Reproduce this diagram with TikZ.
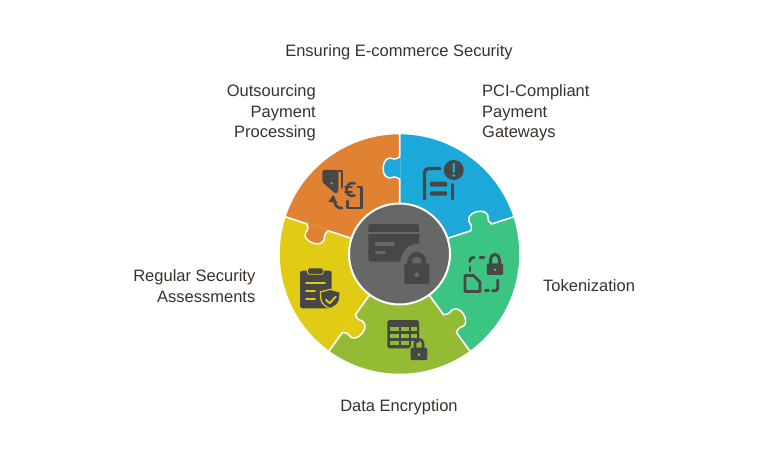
\documentclass[tikz,border=0pt]{standalone}
\usepackage{fontspec}
\setmainfont{Liberation Sans}
\definecolor{cOrange}{HTML}{E08232}
\definecolor{cBlue}{HTML}{1CA9DA}
\definecolor{cGreen}{HTML}{3CC483}
\definecolor{cLime}{HTML}{93BB33}
\definecolor{cYellow}{HTML}{E1CB15}
\definecolor{cCentre}{HTML}{676767}
\definecolor{cIcon}{HTML}{474747}
\definecolor{cText}{HTML}{3A322B}
\tikzset{
  lbl/.style={inner sep=0pt,text=cText,font=\fontsize{16.5}{20.5}\selectfont},
  petal/.style={draw=white,line width=1.5pt,line join=round},
  ico/.style={draw=cIcon,line width=3pt,line cap=round,line join=round},
}
% lock: centre x, body top, half width, body height, shackle radius, hole colour, shackle rise
\newcommand{\lockicon}[7]{%
  \draw[draw=cIcon,line width=#5*0.68pt] (#1-#5,#2+1) -- (#1-#5,#2-#7) arc[start angle=180,end angle=360,radius=#5] -- (#1+#5,#2+1);
  \fill[cIcon,rounded corners=2pt] (#1-#3,#2) rectangle (#1+#3,#2+#4);
  \fill[#6] (#1,#2+#4*0.55) circle[radius=#4*0.12];
}
\newcommand{\sector}[3]{%
  \draw[petal,fill=#1] (#2:50) -- (#2:120.5) arc[start angle=#2,end angle=#3,radius=120.5] -- (#3:50) arc[start angle=#3,end angle=#2,radius=50] -- cycle;
}
\newcommand{\knob}[2]{%
  \begin{scope}[rotate=#2]
    \fill[#1] (97,-1) -- (97,0) .. controls (95.8,2.5) and (94.6,3.5) .. (95,5.5)
      .. controls (96.4,8) and (96.4,11) .. (94,13.5)
      .. controls (91,17) and (81,17.6) .. (78,14)
      .. controls (75.6,11) and (75.6,8) .. (77,5.5)
      .. controls (77.4,3.5) and (76.2,2.5) .. (75,0) -- (75,-1) -- cycle;
    \draw[white,line width=1.5pt,line cap=round] (97,0) .. controls (95.8,2.5) and (94.6,3.5) .. (95,5.5)
      .. controls (96.4,8) and (96.4,11) .. (94,13.5)
      .. controls (91,17) and (81,17.6) .. (78,14)
      .. controls (75.6,11) and (75.6,8) .. (77,5.5)
      .. controls (77.4,3.5) and (76.2,2.5) .. (75,0);
  \end{scope}
}
\begin{document}
\begin{tikzpicture}[x=1pt,y=-1pt]
\useasboundingbox (0,0) rectangle (768,454);
\fill[white] (0,0) rectangle (768,454);

% wheel
\begin{scope}[shift={(399.5,254)},y=1pt]
  \sector{cBlue}{18}{90}
  \sector{cOrange}{90}{162}
  \sector{cYellow}{162}{234}
  \sector{cLime}{234}{306}
  \sector{cGreen}{306}{378}
  \knob{cBlue}{90}
  \knob{cGreen}{18}
  \knob{cOrange}{162}
  \knob{cYellow}{234}
  \knob{cLime}{306}
  \draw[draw=white,line width=2pt,fill=cCentre] (0,0) circle[radius=50.5];
\end{scope}

% centre icon: card and lock
\fill[cIcon,rounded corners=2.5pt] (368.3,224) rectangle (419,261.7);
\fill[cCentre] (368.3,232.3) rectangle (419,234);
\fill[cCentre] (419,262) circle[radius=18.5];
\draw[cCentre,line width=3.2pt,line cap=round] (376.5,244) -- (393,244);
\draw[cCentre,line width=3.2pt,line cap=round] (376.5,252.7) -- (384.5,252.7);
\lockicon{416.8}{263.3}{12.5}{20.7}{7}{cCentre}{2}

% outsourcing icon
\fill[cIcon,rounded corners=1.5pt] (322.3,170) -- (338.3,170) -- (338.3,192.5) -- (335,193.5) -- (322.3,182) -- cycle;
\fill[cOrange] (331.7,183.3) circle[radius=1.3];
\draw[ico,line width=1.8pt] (338,170.8) -- (341.7,170.8) -- (341.7,188);
\draw[ico,line width=2.6pt] (358,187) -- (361.4,187) -- (361.4,208) -- (347.5,208) -- (347.5,201);
\draw[ico,line width=2.6pt] (354.5,195.5) .. controls (349.5,197.5) and (346.5,193.5) .. (346.5,189.5) .. controls (346.5,185) and (350.5,181.5) .. (354.5,183.5);
\draw[ico,line width=1.8pt] (345,187.3) -- (352,187.3);
\draw[ico,line width=1.8pt] (345,191.7) -- (352,191.7);
\draw[ico,line width=2.6pt] (342,208) .. controls (338,208.5) and (335,206) .. (334.5,201.5);
\fill[cIcon] (333.3,195) -- (337.5,203.3) -- (328.3,201.7) -- cycle;

% PCI icon
\draw[ico,line width=3.3pt] (424.5,199) -- (424.5,173) .. controls (424.5,170) and (426,168.5) .. (429,168.5) -- (440,168.5);
\fill[cIcon] (453.7,170) circle[radius=10];
\fill[cBlue,rounded corners=0.8pt] (452.5,163) rectangle (454.9,172.7);
\fill[cBlue] (453.7,175.5) circle[radius=1.6];
\fill[cIcon,rounded corners=1pt] (430,181.7) rectangle (447,186.7);
\fill[cIcon,rounded corners=1pt] (430,191.5) rectangle (447,195.7);
\draw[ico,line width=3pt] (452.3,184.5) -- (452.3,199);

% tokenization icon
\lockicon{495}{263.3}{8.2}{11.7}{4.3}{cGreen}{4.5}
\draw[ico,line width=2.8pt] (470,271) -- (470,267);
\draw[ico,line width=2.8pt] (470,261.5) -- (470,260.5) .. controls (470,258.5) and (471,257.5) .. (474,257.5);
\draw[ico,line width=2.8pt] (480,257.5) -- (484,257.5);
\draw[ico,line width=2.8pt] (465,275.5) -- (473.5,275.5) -- (480,282) -- (480,291.5) -- (465,291.5) -- cycle;
\draw[ico,line width=2.8pt] (485.5,290.7) -- (488.5,290.7);
\draw[ico,line width=2.8pt] (492.5,290.7) -- (496,290.7) .. controls (497.2,290.7) and (497.7,290) .. (497.7,289) -- (497.7,280);

% encryption icon
\fill[cIcon,rounded corners=2.5pt] (387.3,320) rectangle (419,348.3);
\foreach \cx/\cw in {389.7/9,401/7.5,410.5/6.3}{
  \foreach \cy/\ch in {327/4,333.5/4.4,340.5/4.6}{
    \fill[cLime] (\cx,\cy) rectangle +(\cw,\ch);
  }
}
\fill[cLime] (419,354) circle[radius=11.5];
\lockicon{419}{347.7}{8.3}{12.5}{4}{cLime}{4.4}

% assessments icon
\fill[cIcon,rounded corners=2.5pt] (300,270.7) rectangle (331.7,308.3);
\draw[draw=cYellow,fill=cIcon,line width=0.8pt,rounded corners=1.5pt] (307.5,268) rectangle (323.3,274.3);
\draw[cYellow,line width=1.6pt,line cap=round] (306,283.3) -- (325,283.3);
\draw[cYellow,line width=1.6pt,line cap=round] (306,290.7) -- (315,290.7);
\draw[cYellow,line width=1.6pt,line cap=round] (306,298.7) -- (315,298.7);
\draw[draw=cYellow,fill=cIcon,line width=1.2pt,line join=round] (330.2,289.3) -- (340,292) -- (339.7,299) .. controls (339,304) and (335,306.5) .. (330.2,308.7) .. controls (325.5,306.5) and (321.5,304) .. (320.8,299) -- (320.4,292) -- cycle;
\draw[cYellow,line width=1.9pt,line cap=round,line join=round] (326,299.8) -- (329.6,303.2) -- (335.8,296.7);

% labels
\node[lbl,align=center] (title) at (399,52) {Ensuring E-commerce Security};
\node[lbl,align=right,anchor=east] (outs) at (316,113) {Outsourcing\\Payment\\Processing};
\node[lbl,align=left,anchor=west] (pci) at (482,113) {PCI-Compliant\\Payment\\Gateways};
\node[lbl,anchor=west] (tok) at (543,285.5) {Tokenization};
\node[lbl,align=right,anchor=east] (reg) at (255.5,286) {Regular Security\\Assessments};
\node[lbl] (enc) at (399,407) {Data Encryption};
\end{tikzpicture}
\end{document}
